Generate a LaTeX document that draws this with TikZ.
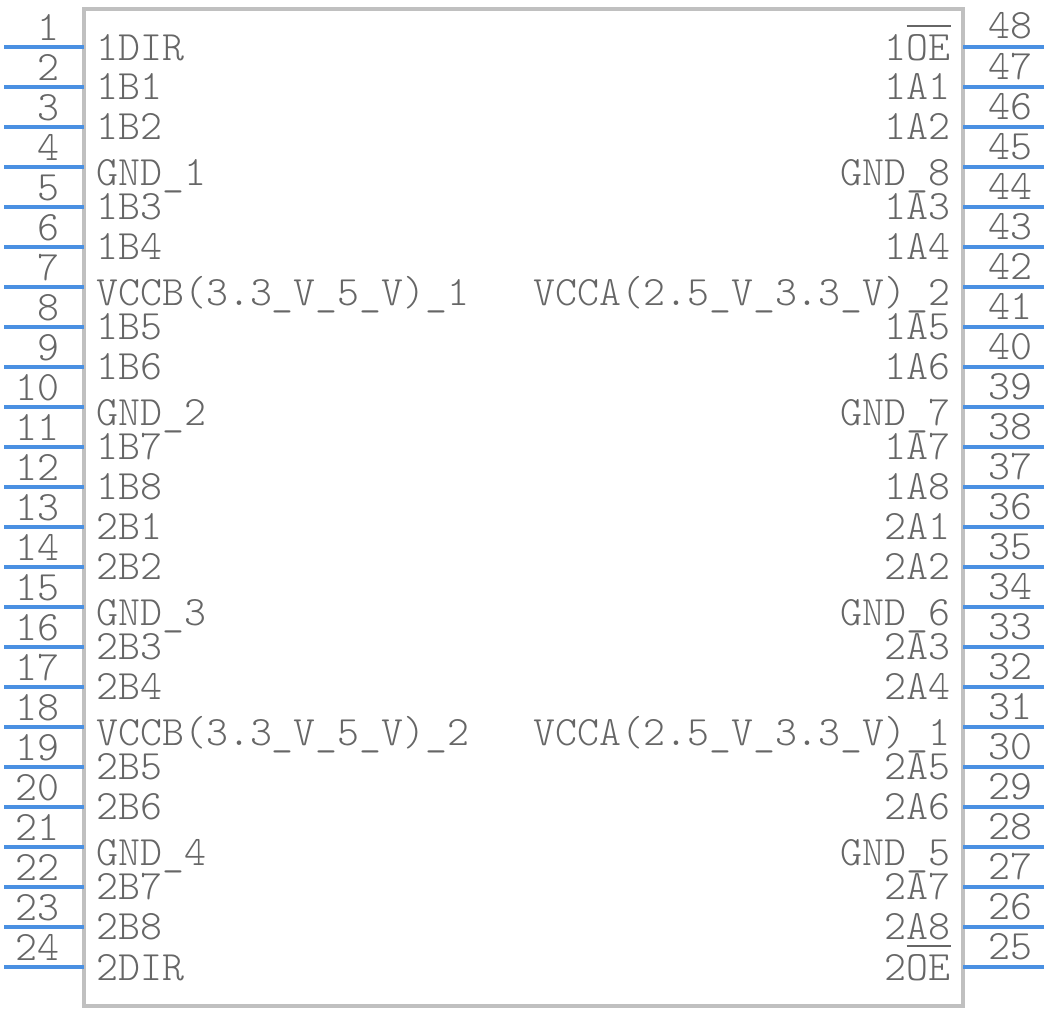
\documentclass[tikz,border=0pt]{standalone}
\usepackage{fontspec}
\setmonofont{Latin Modern Mono Light}
\definecolor{pin_blue}{RGB}{74,144,226}
\definecolor{body_grey}{RGB}{192,192,192}
\definecolor{text_grey}{RGB}{102,102,102}
\tikzstyle{body}=[draw=body_grey,line width=2pt]
\tikzstyle{pin}=[draw=pin_blue,line width=2pt]
\tikzstyle{lbl}=[text=text_grey,inner sep=0pt,font=\fontsize{20.9}{22}\selectfont\ttfamily]
\tikzstyle{num}=[text=text_grey,inner sep=0pt,font=\fontsize{20.9}{22}\selectfont\ttfamily]
\newcommand{\ovbar}[1]{\vbox{\hrule height 1.2pt\kern 3.5pt\hbox{#1}}}

\begin{document}
\begin{tikzpicture}[x=0.5pt,y=-0.5pt]
        \useasboundingbox (0,0) rectangle (1048,1012);
        \draw[body] (84,9) rectangle (963,1006);
        % left side, pins 1..24
        \foreach \n/\t/\d in {1/1DIR/13, 2/1B1/12, 3/1B2/12, 4/GND\_1/18, 5/1B3/12, 6/1B4/12,
            7/VCCB(3.3\_V\_5\_V)\_1/18, 8/1B5/12, 9/1B6/12, 10/GND\_2/18, 11/1B7/12, 12/1B8/12,
            13/2B1/12, 14/2B2/12, 15/GND\_3/18, 16/2B3/12, 17/2B4/12, 18/VCCB(3.3\_V\_5\_V)\_2/18,
            19/2B5/12, 20/2B6/12, 21/GND\_4/18, 22/2B7/12, 23/2B8/12, 24/2DIR/13}{
            \pgfmathsetmacro\yy{47+40*(\n-1)}
            \coordinate (L\n) at (4,\yy);
            \coordinate (Lb\n) at (84,\yy);
            \draw[pin] (L\n) -- (Lb\n);
            \node[num,anchor=base east] (nL\n) at (60,\yy-7) {\n};
            \node[lbl,anchor=base west] (tL\n) at (96,\yy+\d) {\t};
        }
        % right side, pins 48..25
        \foreach \n/\t/\d in {48/1\ovbar{OE}/13, 47/1A1/12, 46/1A2/12, 45/GND\_8/18, 44/1A3/12, 43/1A4/12,
            42/VCCA(2.5\_V\_3.3\_V)\_2/18, 41/1A5/12, 40/1A6/12, 39/GND\_7/18, 38/1A7/12, 37/1A8/12,
            36/2A1/12, 35/2A2/12, 34/GND\_6/18, 33/2A3/12, 32/2A4/12, 31/VCCA(2.5\_V\_3.3\_V)\_1/18,
            30/2A5/12, 29/2A6/12, 28/GND\_5/18, 27/2A7/12, 26/2A8/12, 25/2\ovbar{OE}/13}{
            \pgfmathsetmacro\yy{47+40*(48-\n)}
            \coordinate (R\n) at (1044,\yy);
            \coordinate (Rb\n) at (963,\yy);
            \draw[pin] (Rb\n) -- (R\n);
            \node[num,anchor=base west] (nR\n) at (988,\yy-8) {\n};
            \node[lbl,anchor=base east] (tR\n) at (951,\yy+\d) {\t};
        }
    \end{tikzpicture}
\end{document}
